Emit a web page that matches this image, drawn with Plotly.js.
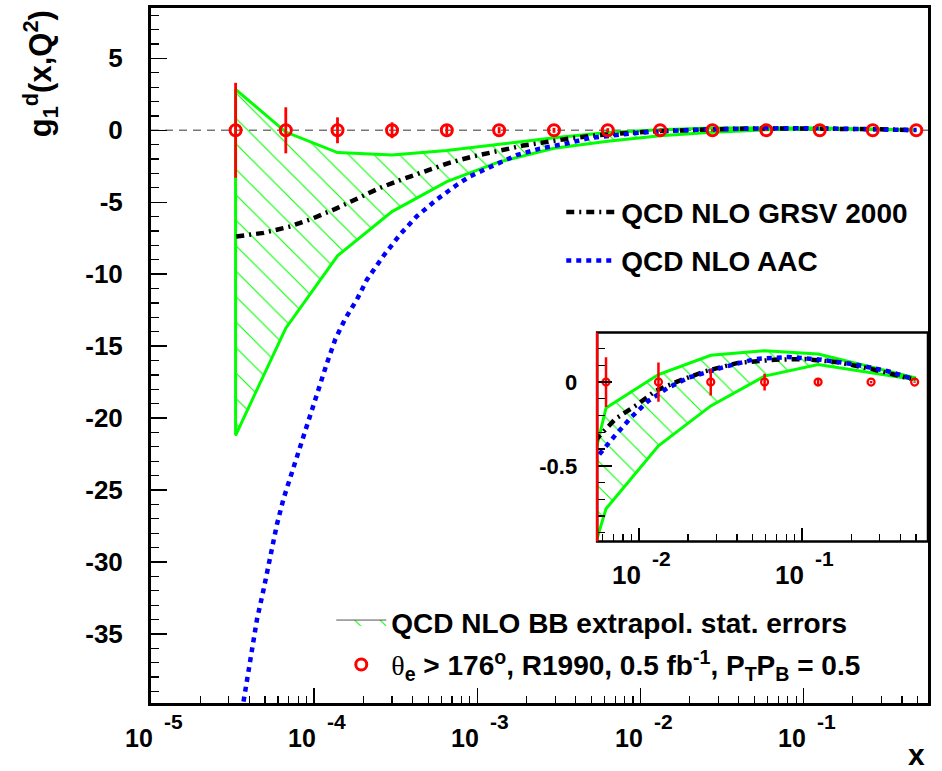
<!DOCTYPE html>
<html>
<head>
<meta charset="utf-8">
<script src="https://cdn.plot.ly/plotly-3.0.1.min.js"></script>
<style>html,body{margin:0;padding:0;background:#fff;}#chart{width:942px;height:771px;}</style>
</head>
<body>
<div id="chart"></div>
<script>
// ---------- data ----------
// pseudo-data points (all at zero) with statistical errors
const dataX   = [3.3e-5, 6.7e-5, 1.39e-4, 3.0e-4, 6.5e-4, 1.36e-3, 2.95e-3, 6.3e-3, 1.32e-2, 2.76e-2, 5.9e-2, 0.1255, 0.265, 0.49];
const dataY   = [0, 0, 0, 0, 0, 0, 0, 0, 0, 0, 0, 0, 0, 0];
const dataErr = [3.3, 1.6, 0.9, 0.55, 0.3, 0.22, 0.17, 0.148, 0.117, 0.08, 0.05, 0.02, 0.006, 0.004];

// QCD NLO BB extrapolation band (main panel)
const bandX     = dataX;
const bandUpper = [2.85, -0.12, -1.55, -1.71, -1.41, -0.95, -0.52, -0.154, 0.045, 0.16, 0.188, 0.168, 0.091, 0.026];
const bandLower = [-21.2, -13.75, -8.72, -5.65, -3.57, -2.2, -1.25, -0.757, -0.38, -0.142, 0.036, 0.105, 0.056, 0.016];

// same band as drawn in the inset
const insetBandX     = [5.3e-3, 6.3e-3, 1.32e-2, 2.76e-2, 5.9e-2, 0.1255, 0.265, 0.49];
const insetBandUpper = [-0.46, -0.154, 0.045, 0.16, 0.188, 0.168, 0.091, 0.026];
const insetBandLower = [-1.0, -0.757, -0.38, -0.142, 0.036, 0.105, 0.056, 0.016];

// QCD NLO GRSV 2000
const grsvX = [3.33e-5, 4.9e-5, 6.97e-5, 9.68e-5, 1.35e-4, 1.83e-4, 2.53e-4, 3.52e-4, 4.9e-4, 6.81e-4, 9.46e-4, 1.35e-3, 1.91e-3, 2.66e-3, 3.87e-3, 5.64e-3, 7.18e-3, 9.93e-3, 1.26e-2, 1.75e-2, 2.55e-2, 4.06e-2, 6.85e-2, 0.104, 0.166, 0.265, 0.466];
const grsvY = [-7.38, -7.13, -6.71, -6.15, -5.46, -4.76, -4.0, -3.38, -2.78, -2.24, -1.81, -1.41, -1.06, -0.81, -0.53, -0.33, -0.22, -0.13, -0.053, 0.006, 0.065, 0.115, 0.134, 0.138, 0.119, 0.079, 0.02];

// QCD NLO AAC
const aacX = [3.69e-5, 4.06e-5, 4.46e-5, 4.90e-5, 5.38e-5, 5.91e-5, 6.49e-5, 7.30e-5, 8.20e-5, 9.23e-5, 1.04e-4, 1.20e-4, 1.35e-4, 1.55e-4, 1.83e-4, 2.10e-4, 2.65e-4, 3.36e-4, 4.26e-4, 5.64e-4, 7.47e-4, 9.02e-4, 1.20e-3, 1.74e-3, 2.42e-3, 3.52e-3, 4.90e-3, 5.64e-3, 7.14e-3, 8.98e-3, 1.14e-2, 1.51e-2, 2.01e-2, 3.20e-2, 5.16e-2, 8.22e-2, 0.131, 0.211, 0.336, 0.492];
const aacY = [-39.7, -36.6, -34.0, -31.9, -29.6, -27.4, -25.6, -23.8, -21.9, -20.0, -18.2, -16.15, -14.5, -13.1, -11.75, -10.4, -8.75, -7.24, -5.97, -4.81, -3.8, -3.2, -2.55, -1.73, -1.27, -0.92, -0.53, -0.44, -0.32, -0.21, -0.113, -0.034, 0.026, 0.085, 0.138, 0.150, 0.134, 0.105, 0.065, 0.016];

// tick labels
const xTickVals  = [1e-5, 1e-4, 1e-3, 1e-2, 1e-1];
const xTickBase  = '10';
const xTickExp   = ['-5', '-4', '-3', '-2', '-1'];
const yTickVals  = [5, 0, -5, -10, -15, -20, -25, -30, -35];
const yTickText  = ['5', '0', '-5', '-10', '-15', '-20', '-25', '-30', '-35'];
const y2TickVals = [0, -0.5];
const y2TickText = ['0', '-0.5'];

// legend texts
const nameGRSV = 'QCD NLO GRSV 2000';
const nameAAC  = 'QCD NLO AAC';
const nameBand = 'QCD NLO BB extrapol. stat. errors';
const nameData = '<span style="font-weight:normal;font-family:\'Liberation Serif\',serif">θ</span><sub>e</sub> &gt; 176<sup>o</sup>, R1990, 0.5 fb<sup>-1</sup>, P<sub>T</sub>P<sub>B</sub> = 0.5';

// ---------- helpers ----------
const xMinor = [];
for (let d = -5; d <= -1; d++) for (let k = 2; k <= 9; k++) xMinor.push(k * Math.pow(10, d));
const yMinor = [];
for (let v = -39; v <= 8; v++) if (v % 5 !== 0) yMinor.push(v);
const y2Minor = [];
for (let v = -9; v <= 2; v++) if (v % 5 !== 0) y2Minor.push(v / 10);

const GREEN = '#00ff00';
const FAM = 'Liberation Sans, Arial, Helvetica, sans-serif';
function bf(size) { return {family: FAM, weight: 'bold', color: 'black', size: size}; }

function poly(xs, up, lo) {
  const px = xs.concat(xs.slice().reverse());
  const py = up.concat(lo.slice().reverse());
  return {x: px.concat([xs[0]]), y: py.concat([up[0]])};
}
const pMain = poly(bandX, bandUpper, bandLower);
const pIns  = poly(insetBandX, insetBandUpper, insetBandLower);

const hatch = {shape: '\\', fgcolor: GREEN, bgcolor: 'rgba(255,255,255,0)', size: 18, solidity: 0.06, fillmode: 'replace'};

const traces = [
  // main panel: hatched band (legend box) + green outline
  {x: pMain.x, y: pMain.y, xaxis: 'x', yaxis: 'y', type: 'scatter', mode: 'lines', fill: 'toself',
   fillcolor: 'rgba(0,0,0,0)', fillpattern: hatch, line: {color: '#555555', width: 1},
   name: nameBand, legend: 'legend2', legendgroup: 'band', hoverinfo: 'skip'},
  {x: pMain.x, y: pMain.y, xaxis: 'x', yaxis: 'y', type: 'scatter', mode: 'lines',
   line: {color: GREEN, width: 3}, showlegend: false, hoverinfo: 'skip'},
  {x: grsvX, y: grsvY, xaxis: 'x', yaxis: 'y', type: 'scatter', mode: 'lines',
   line: {color: 'black', width: 4.5, dash: '8px,5px,2px,5px'}, name: nameGRSV, legend: 'legend', legendgroup: 'grsv'},
  {x: aacX, y: aacY, xaxis: 'x', yaxis: 'y', type: 'scatter', mode: 'lines',
   line: {color: '#0000ff', width: 4.5, dash: '5px,5px'}, name: nameAAC, legend: 'legend', legendgroup: 'aac'},
  {x: dataX, y: dataY, xaxis: 'x', yaxis: 'y', type: 'scatter', mode: 'markers',
   marker: {symbol: 'circle-open', size: 11, color: 'red', line: {width: 3, color: 'red'}},
   error_y: {type: 'data', array: dataErr, visible: true, color: 'red', thickness: 2.8, width: 0},
   name: nameData, legend: 'legend2', legendgroup: 'data'},
  // inset
  {x: pIns.x, y: pIns.y, xaxis: 'x2', yaxis: 'y2', type: 'scatter', mode: 'lines', fill: 'toself',
   fillcolor: 'rgba(0,0,0,0)', fillpattern: hatch, line: {color: GREEN, width: 3}, showlegend: false, hoverinfo: 'skip'},
  {x: grsvX, y: grsvY, xaxis: 'x2', yaxis: 'y2', type: 'scatter', mode: 'lines',
   line: {color: 'black', width: 4.5, dash: '8px,5px,2px,5px'}, showlegend: false},
  {x: aacX, y: aacY, xaxis: 'x2', yaxis: 'y2', type: 'scatter', mode: 'lines',
   line: {color: '#0000ff', width: 4.5, dash: '5px,5px'}, showlegend: false},
  {x: dataX, y: dataY, xaxis: 'x2', yaxis: 'y2', type: 'scatter', mode: 'markers',
   marker: {symbol: 'circle-open', size: 7, color: 'red', line: {width: 2.2, color: 'red'}},
   error_y: {type: 'data', array: dataErr, visible: true, color: 'red', thickness: 2.5, width: 0},
   showlegend: false}
];

// layout geometry
const X_RANGE  = [-5, -0.238];
const X2_RANGE = [-2.255, -0.228];
const Y2_DOM   = [0.2324, 0.533];
const PLOT_H   = 771 - 8 - 68;

// power-of-ten tick labels drawn as "10" + raised exponent, placed at each tick value
const tickAnn = [];
function addPowerLabels(xref, range, yBasePx, yExpPx, baseSize, expSize, domBottom) {
  xTickVals.forEach((v, i) => {
    const lx = Math.log10(v);
    if (lx < range[0] - 1e-6 || lx > range[1] + 1e-6) return;
    tickAnn.push({text: xTickBase, xref: xref, yref: 'paper', x: lx, y: domBottom - yBasePx / PLOT_H,
      xanchor: 'right', yanchor: 'middle', xshift: 4, showarrow: false, font: bf(baseSize)});
    tickAnn.push({text: xTickExp[i], xref: xref, yref: 'paper', x: lx, y: domBottom - yExpPx / PLOT_H,
      xanchor: 'left', yanchor: 'middle', xshift: 11, showarrow: false, font: bf(expSize)});
  });
}
addPowerLabels('x', X_RANGE, 35, 18, 25, 21, 0);
addPowerLabels('x2', X2_RANGE, 34, 17, 26, 21, Y2_DOM[0]);

const layout = {
  width: 942, height: 771,
  margin: {l: 151, r: 14, t: 8, b: 68, pad: 0},
  paper_bgcolor: 'white', plot_bgcolor: 'white',
  font: {family: FAM, color: 'black'},
  showlegend: true,
  xaxis: {
    type: 'log', range: X_RANGE, domain: [0, 1], anchor: 'y',
    tickmode: 'array', tickvals: xTickVals, showticklabels: false,
    ticks: 'inside', ticklen: 15, tickwidth: 1.5, tickcolor: 'black',
    showline: true, linewidth: 3, linecolor: 'black', mirror: true,
    showgrid: false, zeroline: false,
    minor: {tickmode: 'array', tickvals: xMinor, ticks: 'inside', ticklen: 7, tickwidth: 1.2, tickcolor: 'black', showgrid: false}
  },
  yaxis: {
    range: [-39.8, 8.5], domain: [0, 1], anchor: 'x',
    tickmode: 'array', tickvals: yTickVals, ticktext: yTickText,
    ticks: 'inside', ticklen: 16, tickwidth: 1.5, tickcolor: 'black',
    showline: true, linewidth: 3, linecolor: 'black', mirror: true,
    showgrid: false, zeroline: false,
    tickfont: bf(26), ticklabelstandoff: 20,
    minor: {tickmode: 'array', tickvals: yMinor, ticks: 'inside', ticklen: 8, tickwidth: 1.2, tickcolor: 'black', showgrid: false}
  },
  xaxis2: {
    type: 'log', range: X2_RANGE, domain: [0.5742, 1], anchor: 'y2',
    tickmode: 'array', tickvals: xTickVals, showticklabels: false,
    ticks: 'inside', ticklen: 13, tickwidth: 1.5, tickcolor: 'black',
    showline: false, showgrid: false, zeroline: false,
    minor: {tickmode: 'array', tickvals: xMinor, ticks: 'inside', ticklen: 7, tickwidth: 1.2, tickcolor: 'black', showgrid: false}
  },
  yaxis2: {
    range: [-0.952, 0.296], domain: Y2_DOM, anchor: 'x2',
    tickmode: 'array', tickvals: y2TickVals, ticktext: y2TickText,
    ticks: 'inside', ticklen: 15, tickwidth: 1.5, tickcolor: 'black',
    showline: false, showgrid: false, zeroline: false,
    tickfont: bf(22), ticklabelstandoff: 19,
    minor: {tickmode: 'array', tickvals: y2Minor, ticks: 'inside', ticklen: 8, tickwidth: 1.2, tickcolor: 'black', showgrid: false}
  },
  legend: {
    x: 0.528, y: 0.742, xanchor: 'left', yanchor: 'top',
    bgcolor: 'rgba(0,0,0,0)', borderwidth: 0,
    font: bf(28), traceorder: 'grouped', tracegroupgap: 9, itemwidth: 50
  },
  legend2: {
    x: 0.232, y: 0.152, xanchor: 'left', yanchor: 'top',
    bgcolor: 'rgba(0,0,0,0)', borderwidth: 0,
    font: bf(28), traceorder: 'grouped', tracegroupgap: 3, itemwidth: 50
  },
  shapes: [
    {type: 'line', xref: 'x domain', yref: 'y', x0: 0, x1: 1, y0: 0, y1: 0, layer: 'below',
     line: {color: '#777777', width: 1.5, dash: '8px,6px'}},
    {type: 'line', xref: 'x2 domain', yref: 'y2', x0: 0, x1: 1, y0: 0, y1: 0, layer: 'below',
     line: {color: '#777777', width: 1.5, dash: '8px,6px'}},
    {type: 'rect', xref: 'x2 domain', yref: 'y2 domain', x0: 0, x1: 1, y0: 0, y1: 1,
     line: {color: 'black', width: 2.5}, fillcolor: 'rgba(0,0,0,0)'},
    {type: 'line', xref: 'x2 domain', yref: 'y2 domain', x0: 0, x1: 0, y0: 0, y1: 1,
     line: {color: 'red', width: 2.5}}
  ],
  annotations: [
    {text: 'g<sub>1</sub><sup>d</sup>(x,Q<sup>2</sup>)', textangle: -90, xref: 'paper', yref: 'paper',
     x: -0.142, y: 1.0, xanchor: 'center', yanchor: 'top', showarrow: false,
     font: bf(31)},
    {text: 'x', xref: 'paper', yref: 'paper', x: 0.985, y: -0.074, xanchor: 'center', yanchor: 'middle',
     showarrow: false, font: bf(30)}
  ].concat(tickAnn)
};

Plotly.newPlot('chart', traces, layout, {displayModeBar: false, staticPlot: true});
</script>
</body>
</html>
